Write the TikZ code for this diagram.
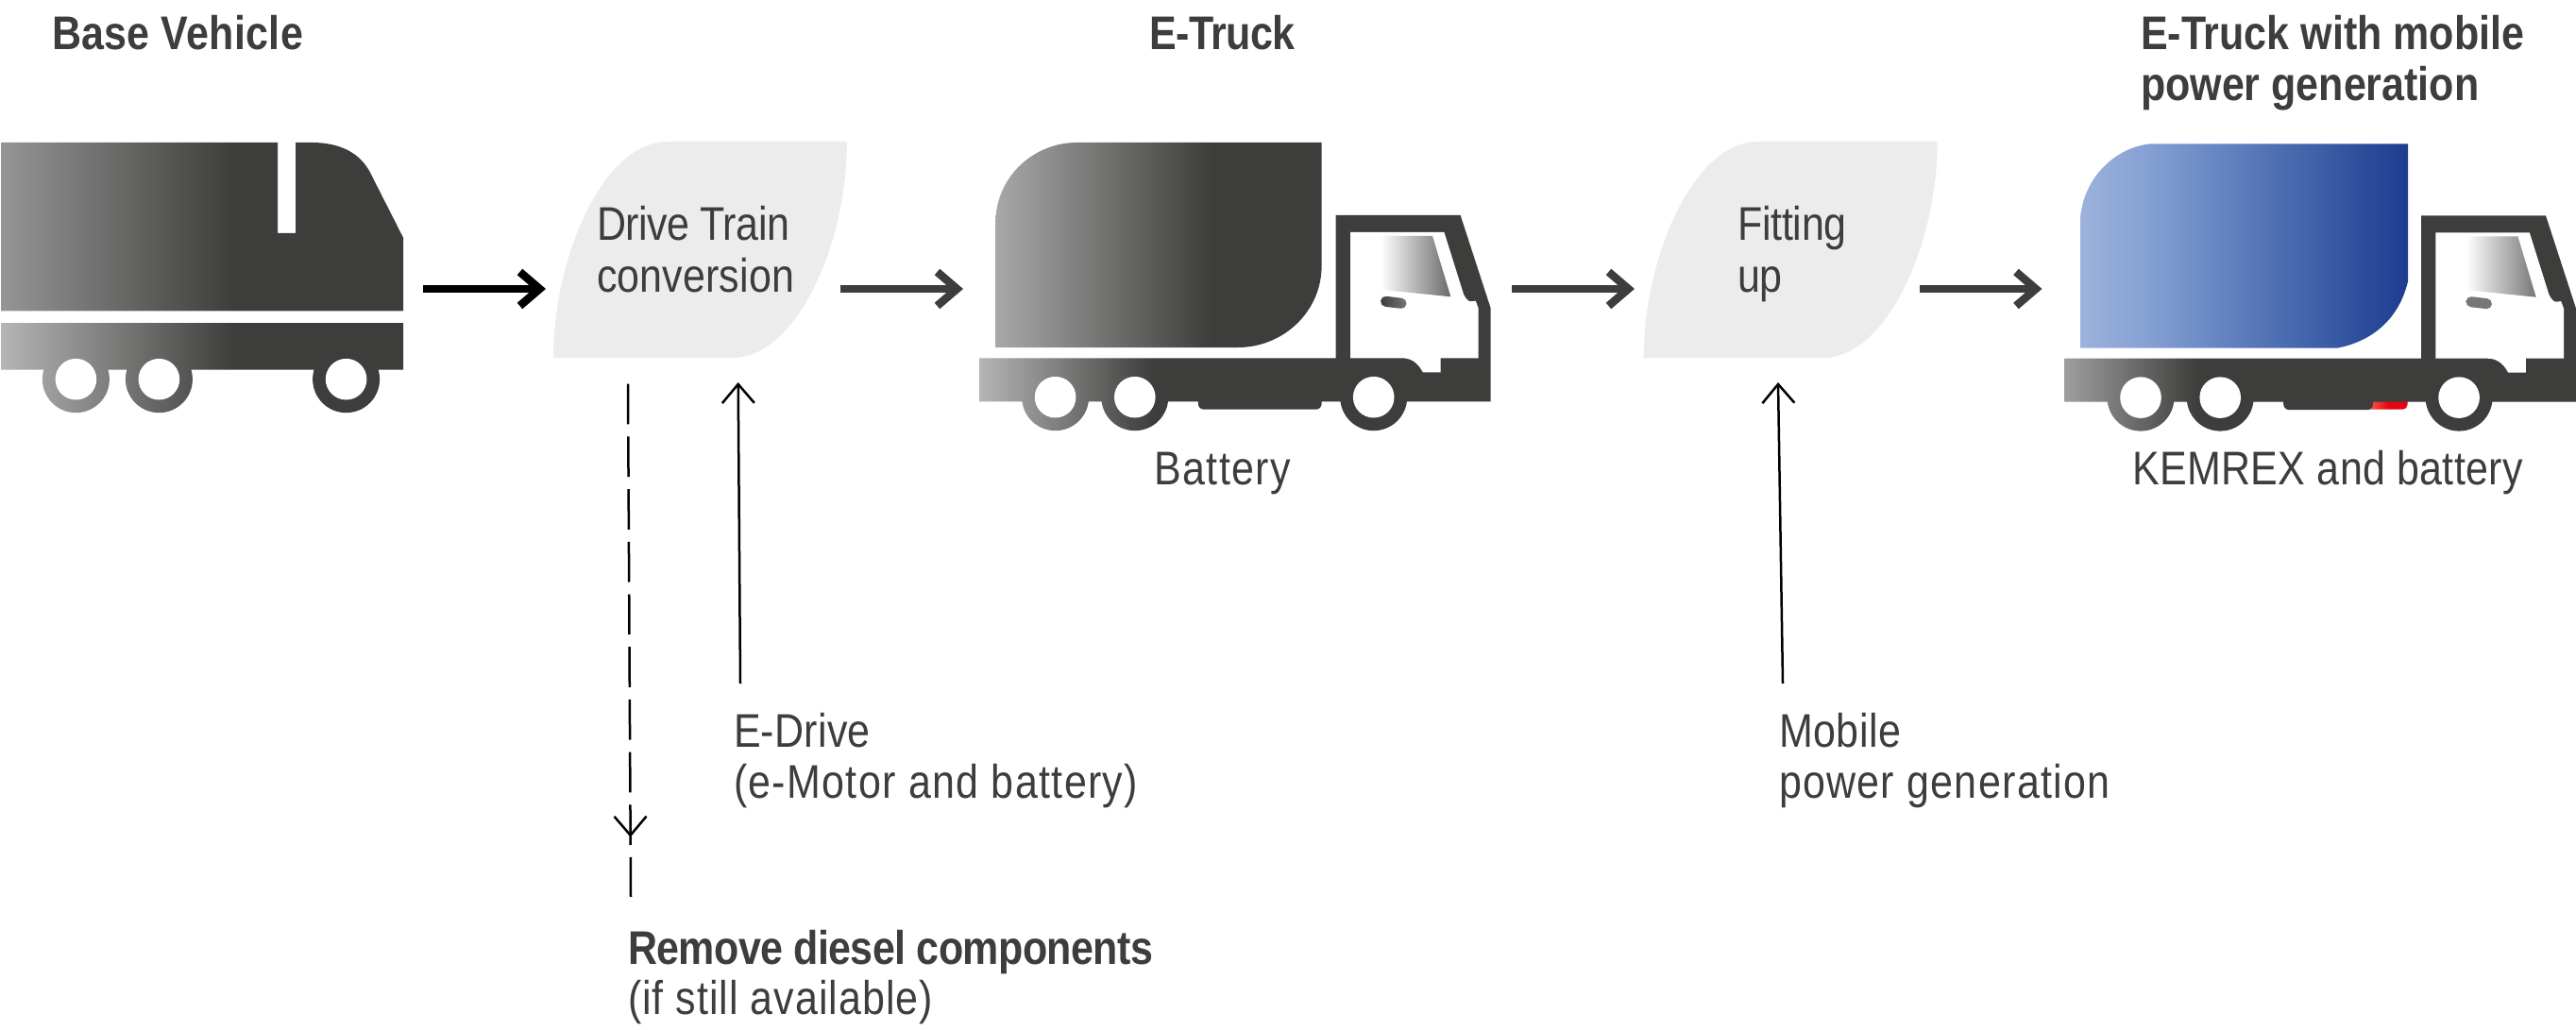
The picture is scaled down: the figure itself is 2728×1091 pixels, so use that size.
\documentclass[tikz,border=0pt]{standalone}
\usepackage{fontspec}
\setmainfont{Liberation Sans}[FakeStretch=0.86]
\usetikzlibrary{arrows.meta,decorations.markings}

\definecolor{ink}{HTML}{3D3D3B}
\definecolor{leafgrey}{HTML}{ECECEC}
\definecolor{glassgrey}{HTML}{6A6A6A}
\definecolor{handlegrey}{HTML}{777777}
\definecolor{greyA}{HTML}{959595}
\definecolor{greyB}{HTML}{B5B5B5}
\definecolor{greyC}{HTML}{A8A8A8}
\definecolor{greyD}{HTML}{9E9E9E}
\definecolor{blueA}{HTML}{9DB2DC}
\definecolor{blueB}{HTML}{86A1D3}
\definecolor{blueC}{HTML}{5B7BBB}
\definecolor{blueD}{HTML}{1C3C90}
\definecolor{redA}{HTML}{F4825F}
\definecolor{redB}{HTML}{E30613}

% Horizontal gradients: 25bp and 75bp are the left and right edges of the shaded path
\pgfdeclarehorizontalshading{rigidUpper}{100bp}{color(0bp)=(greyA); color(25bp)=(greyA); color(54bp)=(ink); color(100bp)=(ink)}
\pgfdeclarehorizontalshading{rigidLower}{100bp}{color(0bp)=(greyB); color(25bp)=(greyB); color(54bp)=(ink); color(100bp)=(ink)}
\pgfdeclarehorizontalshading{boxGrey}{100bp}{color(0bp)=(greyC); color(25bp)=(greyC); color(58bp)=(ink); color(100bp)=(ink)}
\pgfdeclarehorizontalshading{bodyGrey}{100bp}{color(0bp)=(greyB); color(25bp)=(greyB); color(42bp)=(ink); color(100bp)=(ink)}
\pgfdeclarehorizontalshading{bodyMid}{100bp}{color(0bp)=(greyD); color(25bp)=(greyD); color(38bp)=(ink); color(100bp)=(ink)}
\pgfdeclarehorizontalshading{boxBlue}{100bp}{color(0bp)=(blueA); color(25bp)=(blueA); color(35bp)=(blueB); color(50bp)=(blueC); color(75bp)=(blueD); color(100bp)=(blueD)}
\pgfdeclarehorizontalshading{tankRed}{100bp}{color(0bp)=(redA); color(25bp)=(redA); color(55bp)=(redB); color(100bp)=(redB)}

% Tracking of a single line, as a percentage of the font size
\newcommand{\tracked}[2]{{\addfontfeature{LetterSpace=#1}#2}}

\tikzset{
  labeltext/.style={anchor=base west,inner sep=0pt,outer sep=0pt,align=left,text=ink,
    font=\fontsize{50}{54.3}\selectfont},
  headtext/.style={labeltext,font=\fontsize{50}{54.3}\selectfont\bfseries},
  flowarrow/.style={draw=ink,line width=8.5pt,-{Straight Barb[length=21pt,width=36pt]}},
  flowarrowblack/.style={flowarrow,draw=black},
  thinarrow/.style={draw=black,line width=2.5pt,-{Straight Barb[length=20pt,width=34pt]}},
  leaf/.style={fill=leafgrey,draw=none}
}

% Flat-nosed truck: body shading, door handle start colour, glass end colour, battery right edge
\newcommand{\cabtruck}[4]{%
  \shade[shading=#1]
    (1037,379.3) -- (1037,425.3) -- (1578.7,425.3) -- (1578.7,326.7) -- (1546.6,228) -- (1414.6,228) -- (1414.6,379.3) -- cycle
    (1117.6,420.7) circle[radius=35.5pt]
    (1201.8,420.7) circle[radius=35.5pt]
    (1454.7,420.7) circle[radius=35.5pt]
    [rounded corners=6pt] (1268.8,415) -- (1268.8,433.7) -- (#4,433.7) -- (#4,415) -- cycle;
  \fill[white] (1117.6,420.7) circle[radius=21.8pt]
    (1201.8,420.7) circle[radius=21.8pt]
    (1454.7,420.7) circle[radius=21.8pt];
  \fill[white] (1430,246) -- (1529.4,246) -- (1550,311.7)
    .. controls (1552,316) and (1555,319.5) .. (1557.7,319.3) -- (1562.7,318.7) -- (1565.7,326.7)
    -- (1565.7,379.3) -- (1525.5,379.3) -- (1525.5,394.3) -- (1506.8,394.3)
    .. controls (1502,385) and (1495,379.3) .. (1485,379.3) -- (1430,379.3) -- cycle;
  \shade[left color=white,right color=#3]
    (1462,250) -- (1517,250) -- (1536.3,314.3) -- (1462,306.7) -- cycle;
  \shade[left color=#2,right color=handlegrey,rounded corners=5.5pt]
    (1462.6,313.2) -- (1490,316.4) -- (1489,327.4) -- (1461.6,324.2) -- cycle;
}

\begin{document}
\begin{tikzpicture}[x=1pt,y=-1pt]
\useasboundingbox (0,0) rectangle (2728,1091);

% Base vehicle
\shade[shading=rigidUpper]
  (294,151) -- (1,151) -- (1,329.3) -- (427,329.3) -- (427,251.7) -- (394,186.7)
  .. controls (385,166.7) and (367,152) .. (333,151) -- (313,151) -- (313,247) -- (294,247) -- cycle;
\shade[shading=rigidLower]
  (1,342) -- (1,391.7) -- (427,391.7) -- (427,342) -- cycle
  (80.4,401.7) circle[radius=35.5pt]
  (168.4,401.7) circle[radius=35.5pt]
  (366.6,401.7) circle[radius=35.5pt];
\fill[white] (80.4,401.7) circle[radius=21.8pt]
  (168.4,401.7) circle[radius=21.8pt]
  (366.6,401.7) circle[radius=21.8pt];

% Process leaves
\path[leaf] (586,379) .. controls (586,270) and (640,150) .. (706.7,150) -- (897,150)
  .. controls (897,259) and (843,379) .. (776,379) -- cycle;
\path[leaf] (1740.7,379) .. controls (1740.7,270) and (1794.7,150) .. (1861.4,150) -- (2051.7,150)
  .. controls (2051.7,259) and (1997.7,379) .. (1930.7,379) -- cycle;

% E-Truck
\shade[shading=boxGrey] (1399.6,151) -- (1140.5,151) .. controls (1093,151) and (1054.4,189) .. (1054.4,235)
  -- (1054.4,368) -- (1311,368) .. controls (1359,368) and (1399.6,330) .. (1399.6,281.7) -- cycle;
\cabtruck{bodyGrey}{ink}{glassgrey}{1399.6}

% E-Truck with mobile power generation
\shade[shading=boxBlue] (2550,152.3) -- (2277.8,152.3) .. controls (2238,156) and (2203,192) .. (2203,236.7)
  -- (2203,368.7) -- (2475,368.7) .. controls (2510,362) and (2540,340) .. (2550,298) -- cycle;
\shade[shading=tankRed,rounded corners=5pt] (2500,420) -- (2500,433.7) -- (2549.5,433.7) -- (2549.5,420) -- cycle;
\begin{scope}[shift={(1149.4,0.4)}]
  \cabtruck{bodyMid}{handlegrey}{handlegrey}{1363.6}
\end{scope}

% Connector end points
\coordinate (baseOut) at (448,306);
\coordinate (leafOneIn) at (578,306);
\coordinate (leafOneOut) at (890,306);
\coordinate (truckIn) at (1020,306);
\coordinate (truckOut) at (1601,306);
\coordinate (leafTwoIn) at (1731,306);
\coordinate (leafTwoOut) at (2032.7,306);
\coordinate (mobileIn) at (2162.5,306);
\coordinate (dieselFrom) at (665,406.7);
\coordinate (dieselTo) at (668,950);
\coordinate (driveFrom) at (784,724);
\coordinate (driveTo) at (781.7,405);
\coordinate (powerFrom) at (1888,724);
\coordinate (powerTo) at (1883,405);

\draw[flowarrowblack] (baseOut) -- (leafOneIn);
\draw[flowarrow] (leafOneOut) -- (truckIn);
\draw[flowarrow] (truckOut) -- (leafTwoIn);
\draw[flowarrow] (leafTwoOut) -- (mobileIn);
\draw[thinarrow] (driveFrom) -- (driveTo);
\draw[thinarrow] (powerFrom) -- (powerTo);
\draw[black,line width=2.5pt,dash pattern=on 42.7pt off 13pt,
  postaction={decorate,decoration={markings,
    mark=at position 0.8835 with {\arrow[solid]{Straight Barb[length=20pt,width=34pt]}}}}]
  (dieselFrom) -- (dieselTo);

% Labels
\node[headtext] (baseTitle) at (55,52.7) {\tracked{0.6}{Base Vehicle}};
\node[headtext] (truckTitle) at (1217,52.7) {\tracked{-1}{E-Truck}};
\node[headtext] (mobileTitle) at (2267,107) {E-Truck with mobile\\power generation};
\node[labeltext] (driveTrain) at (632,309.3) {\tracked{-1}{Drive Train}\\\tracked{0.3}{conversion}};
\node[labeltext] (fitting) at (1840,309.3) {\tracked{-0.5}{Fitting}\\up};
\node[labeltext] (battery) at (1222,513) {\tracked{3}{Battery}};
\node[labeltext] (kemrex) at (2258.5,513) {\tracked{0.6}{KEMREX and battery}};
\node[labeltext] (eDrive) at (777,845.7) {\tracked{0.5}{E-Drive}\\\tracked{2.7}{(e-Motor and battery)}};
\node[labeltext] (mobilePower) at (1884,845.7) {\tracked{1}{Mobile}\\\tracked{2.6}{power generation}};
\node[headtext] (removeTitle) at (665,1021) {\tracked{-1.2}{Remove diesel components}};
\node[labeltext] (removeNote) at (665,1074) {\tracked{2}{(if still available)}};
\end{tikzpicture}
\end{document}
